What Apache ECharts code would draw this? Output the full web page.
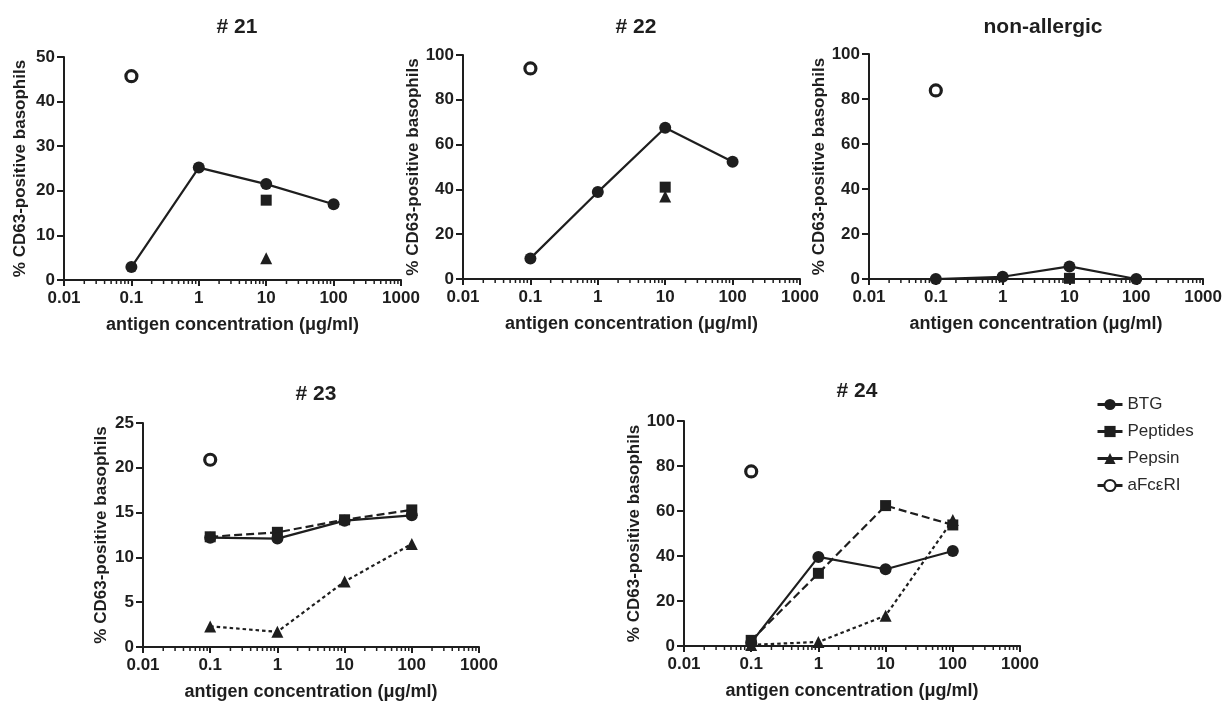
<!DOCTYPE html>
<html>
<head>
<meta charset="utf-8">
<script src="https://cdn.jsdelivr.net/npm/echarts@6/dist/echarts.min.js"></script>
<style>html,body{margin:0;padding:0;background:#fff}#c{width:1225px;height:704px}</style>
</head>
<body>
<div id="c"></div>
<script>
// ---- data ----
const conc = [0.1, 1, 10, 100];
const xTickLabels = ['0.01', '0.1', '1', '10', '100', '1000'];
const panelTitles = ['# 21', '# 22', 'non-allergic', '# 23', '# 24'];
const yMax = [50, 100, 100, 25, 100];
const yStep = [10, 20, 20, 5, 20];

const btg21 = [2.9, 25.2, 21.5, 17.0];
const peptides21 = [null, null, 17.9, null];
const pepsin21 = [null, null, 4.9, null];
const afc21 = [45.7, null, null, null];

const btg22 = [9.2, 38.8, 67.5, 52.3];
const peptides22 = [null, null, 41.0, null];
const pepsin22 = [null, null, 36.8, null];
const afc22 = [94.0, null, null, null];

const btgNA = [0, 1.0, 5.6, 0];
const peptidesNA = [null, null, 0.3, null];
const pepsinNA = [null, null, null, null];
const afcNA = [83.8, null, null, null];

const btg23 = [12.2, 12.1, 14.1, 14.7];
const peptides23 = [12.3, 12.8, 14.2, 15.3];
const pepsin23 = [2.3, 1.7, 7.3, 11.5];
const afc23 = [20.9, null, null, null];

const btg24 = [1.5, 39.6, 34.1, 42.2];
const peptides24 = [2.5, 32.3, 62.4, 53.8];
const pepsin24 = [0.5, 1.8, 13.5, 56.0];
const afc24 = [77.6, null, null, null];

const panels = [
  {btg: btg21, pep: peptides21, pepsin: pepsin21, afc: afc21, lines: false},
  {btg: btg22, pep: peptides22, pepsin: pepsin22, afc: afc22, lines: false},
  {btg: btgNA, pep: peptidesNA, pepsin: pepsinNA, afc: afcNA, lines: false},
  {btg: btg23, pep: peptides23, pepsin: pepsin23, afc: afc23, lines: true},
  {btg: btg24, pep: peptides24, pepsin: pepsin24, afc: afc24, lines: true}
];

// minor log ticks (axis decoration)
const minorTicks = [];
[0.01, 0.1, 1, 10, 100].forEach(d => { for (let k = 2; k <= 9; k++) minorTicks.push([d * k, 0]); });

// ---- layout ----
const grids = [
  {left: 64, top: 57, width: 337, height: 223},
  {left: 463, top: 55, width: 337, height: 224},
  {left: 869, top: 54, width: 337, height: 225},
  {left: 143, top: 423, width: 336, height: 224},
  {left: 684, top: 421, width: 336, height: 225}
];
const titlePos = [[232, 12], [631, 12], [1038, 12], [311, 379], [852, 376]];
const yNameGap = [35, 38, 38, 33, 40];
const yNameSize = [17, 17, 17, 17, 17];

const INK = '#1e1e1e';
const FONT = '"Liberation Sans", Arial, Helvetica, sans-serif';

function pairs(arr) {
  const out = [];
  arr.forEach((v, i) => { if (v !== null) out.push([conc[i], v]); });
  return out;
}

const option = {
  animation: false,
  backgroundColor: '#fff',
  textStyle: {fontFamily: FONT},
  title: panelTitles.map((t, i) => ({
    text: t, left: titlePos[i][0], top: titlePos[i][1], textAlign: 'center',
    textStyle: {fontSize: 21, fontWeight: 'bold', color: INK, fontFamily: FONT}
  })),
  legend: {
    orient: 'vertical', left: 1091, top: 391,
    itemWidth: 25, itemHeight: 14, itemGap: 10,
    data: ['BTG', 'Peptides', 'Pepsin', 'aFcεRI'],
    textStyle: {fontSize: 17, color: '#2a2a2a', fontFamily: FONT},
    lineStyle: {type: 'solid', width: 3, color: INK, opacity: 1},
    selectedMode: false
  },
  grid: grids.map(g => Object.assign({containLabel: false}, g)),
  xAxis: grids.map((g, i) => ({
    type: 'log', logBase: 10, gridIndex: i, min: 0.01, max: 1000,
    name: 'antigen concentration (μg/ml)', nameLocation: 'middle', nameGap: 36,
    nameTextStyle: {fontSize: 18, fontWeight: 'bold', color: INK, fontFamily: FONT},
    axisLine: {lineStyle: {color: INK, width: 2}},
    axisTick: {show: true, length: 6, lineStyle: {color: INK, width: 2}},
    splitLine: {show: false},
    axisLabel: {
      margin: 10, fontSize: 17, fontWeight: 'bold', color: INK, fontFamily: FONT,
      formatter: v => {
        const e = Math.round(Math.log10(v));
        return xTickLabels[e + 2];
      }
    }
  })),
  yAxis: grids.map((g, i) => ({
    type: 'value', gridIndex: i, min: 0, max: yMax[i], interval: yStep[i],
    name: '% CD63-positive basophils', nameLocation: 'middle', nameGap: yNameGap[i],
    nameTextStyle: {fontSize: yNameSize[i], fontWeight: 'bold', color: INK, fontFamily: FONT},
    axisLine: {show: true, lineStyle: {color: INK, width: 2}},
    axisTick: {show: true, length: 7, lineStyle: {color: INK, width: 2}},
    splitLine: {show: false},
    axisLabel: {margin: 9, fontSize: 17, fontWeight: 'bold', color: INK, fontFamily: FONT}
  })),
  series: []
};

panels.forEach((p, i) => {
  option.series.push({
    type: 'custom', name: 'minor', xAxisIndex: i, yAxisIndex: i, silent: true, clip: false,
    data: minorTicks,
    renderItem: (params, api) => {
      const pt = api.coord([api.value(0), api.value(1)]);
      return {type: 'line', shape: {x1: pt[0], y1: pt[1], x2: pt[0], y2: pt[1] + 4},
              style: {stroke: INK, lineWidth: 1.5}};
    }
  });
  option.series.push({
    type: 'line', name: 'BTG', xAxisIndex: i, yAxisIndex: i, data: pairs(p.btg),
    symbol: 'circle', symbolSize: 12, clip: false, z: 4,
    itemStyle: {color: INK}, lineStyle: {color: INK, width: 2.2, type: 'solid'}
  });
  option.series.push({
    type: 'line', name: 'Peptides', xAxisIndex: i, yAxisIndex: i, data: pairs(p.pep),
    symbol: 'rect', symbolSize: 11, clip: false, z: 3,
    itemStyle: {color: INK},
    lineStyle: {color: INK, width: 2.2, type: [8, 4], opacity: p.lines ? 1 : 0}
  });
  option.series.push({
    type: 'line', name: 'Pepsin', xAxisIndex: i, yAxisIndex: i, data: pairs(p.pepsin),
    symbol: 'triangle', symbolSize: 12, clip: false, z: 3,
    itemStyle: {color: INK},
    lineStyle: {color: INK, width: 2.2, type: [3.5, 3], opacity: p.lines ? 1 : 0}
  });
  option.series.push({
    type: 'line', name: 'aFcεRI', xAxisIndex: i, yAxisIndex: i, data: pairs(p.afc),
    symbol: 'circle', symbolSize: 11, clip: false, z: 5,
    itemStyle: {color: '#ffffff', borderWidth: 3.2, borderColor: INK},
    lineStyle: {color: INK, width: 2}
  });
});

const chart = echarts.init(document.getElementById('c'), null, {renderer: 'canvas'});
chart.setOption(option);
</script>
</body>
</html>
